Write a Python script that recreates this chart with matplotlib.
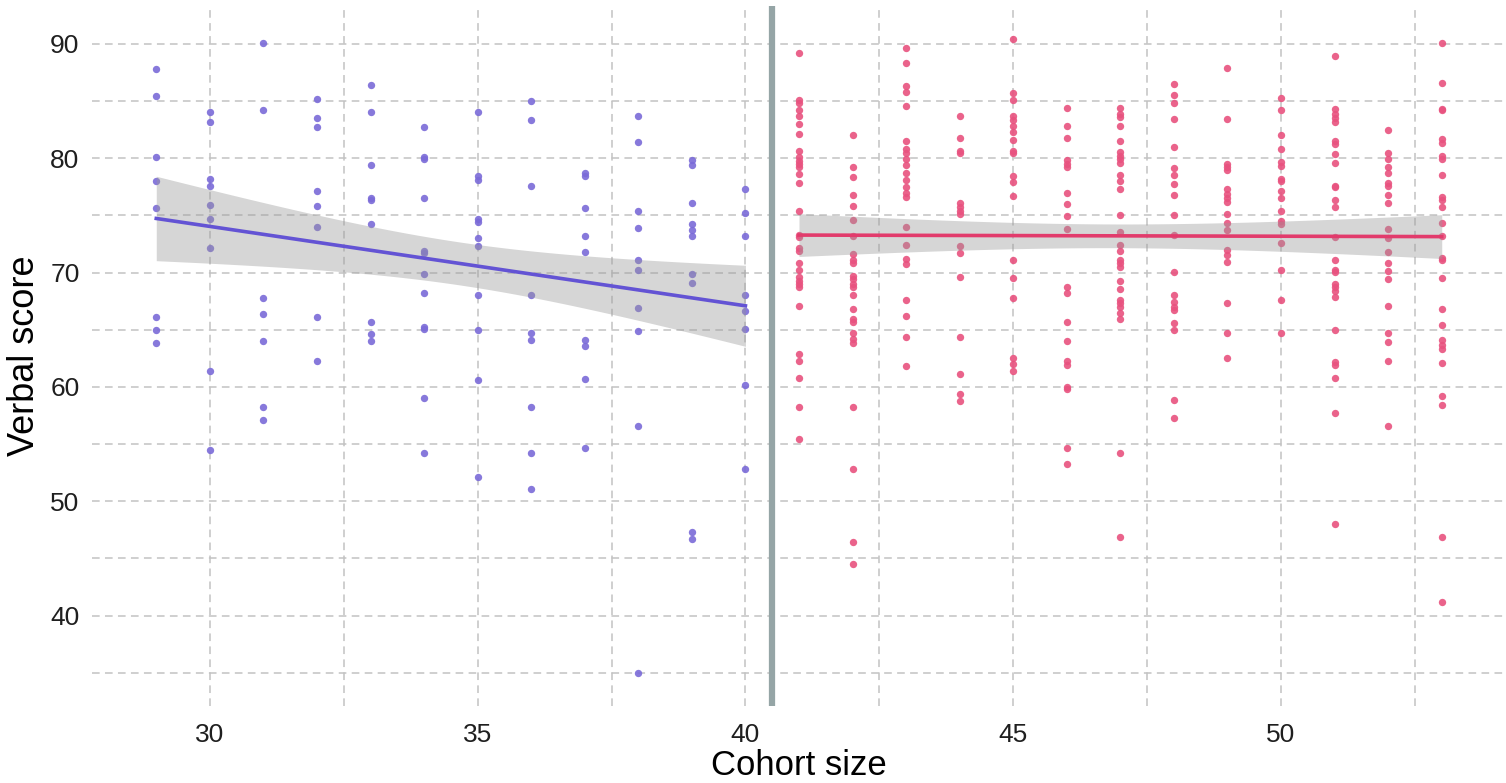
import numpy as np
import matplotlib
matplotlib.use("Agg")
import matplotlib.pyplot as plt
from matplotlib.ticker import MultipleLocator

# ---------------- data ----------------
left_sizes = [29, 30, 31, 32, 33, 34, 35, 36, 37, 38, 39, 40]
left_scores = [
    [87.8, 85.4, 80.1, 78.0, 75.6, 66.1, 65.0, 63.8],
    [84.0, 83.2, 78.2, 77.6, 75.9, 74.7, 72.1, 61.4, 54.5],
    [90.1, 84.2, 67.8, 66.4, 64.0, 58.2, 57.1],
    [85.2, 83.5, 82.7, 77.1, 75.8, 74.0, 66.1, 62.3],
    [86.4, 84.0, 79.4, 76.5, 76.3, 74.2, 65.7, 64.6, 64.0],
    [82.7, 80.1, 79.9, 76.5, 71.9, 71.7, 69.9, 68.2, 65.2, 65.1, 59.0, 54.2],
    [84.0, 78.4, 78.1, 74.7, 74.4, 73.0, 72.3, 68.0, 65.0, 60.6, 52.1],
    [85.0, 83.3, 77.6, 68.0, 64.7, 64.1, 58.2, 54.2, 51.1],
    [78.7, 78.4, 75.6, 73.2, 71.8, 64.1, 63.6, 60.7, 54.7],
    [83.7, 81.4, 75.4, 73.9, 71.1, 70.2, 66.9, 64.9, 56.6, 35.0],
    [79.8, 79.4, 76.1, 74.2, 73.7, 73.2, 69.9, 69.1, 47.3, 46.7],
    [77.3, 75.2, 73.2, 68.0, 66.6, 65.1, 60.2, 52.8],
]

right_sizes = [41, 42, 43, 44, 45, 46, 47, 48, 49, 50, 51, 52, 53]
right_scores = [
    [89.2, 85.1, 84.8, 84.2, 83.7, 83.0, 82.1, 80.6, 80.1, 79.75, 79.5, 79.2,
     78.6, 77.8, 75.4, 73.3, 73.1, 72.1, 71.9, 70.8, 70.25, 69.6, 69.3, 69.0,
     68.7, 67.1, 62.9, 62.3, 60.8, 58.2, 55.4],
    [82.0, 79.2, 78.35, 76.8, 75.8, 74.6, 73.2, 71.65, 71.1, 70.8, 69.7, 69.4,
     69.0, 68.7, 68.0, 66.8, 65.9, 65.7, 64.7, 64.2, 63.8, 58.2, 52.8, 46.4, 44.5],
    [89.6, 88.3, 86.3, 85.8, 84.55, 81.5, 80.8, 80.45, 79.95, 79.4, 78.7, 78.1,
     77.5, 76.95, 76.6, 74.0, 72.4, 71.2, 70.7, 67.6, 66.2, 64.4, 61.8],
    [83.7, 81.8, 80.6, 80.45, 76.1, 75.7, 75.4, 75.1, 72.3, 71.7, 69.6, 64.4,
     61.1, 59.4, 58.8],
    [90.4, 85.7, 85.1, 83.7, 83.3, 82.8, 82.3, 81.6, 80.6, 80.45, 78.4, 77.9,
     76.7, 71.1, 69.55, 67.8, 62.5, 62.0, 61.4],
    [84.4, 82.8, 81.8, 79.8, 79.5, 79.2, 76.95, 75.95, 74.9, 73.8, 68.7, 68.2,
     65.7, 64.0, 62.3, 61.9, 60.0, 59.8, 54.7, 53.3],
    [84.4, 83.9, 83.6, 82.8, 81.5, 80.5, 80.2, 79.95, 79.6, 78.5, 78.0, 77.3,
     75.05, 73.55, 72.4, 71.9, 71.1, 70.8, 70.5, 69.3, 68.6, 67.6, 67.3, 67.0,
     66.5, 65.9, 54.2, 46.9],
    [86.5, 85.5, 84.8, 83.4, 81.0, 79.1, 78.5, 77.7, 76.75, 75.05, 73.3, 70.05,
     68.0, 67.4, 67.0, 66.75, 65.6, 64.95, 58.85, 57.3],
    [87.9, 83.4, 79.5, 79.2, 79.0, 77.3, 76.9, 76.5, 76.2, 75.1, 74.3, 73.7,
     72.0, 71.5, 70.9, 67.3, 64.7, 62.5],
    [85.25, 84.2, 82.0, 80.8, 79.7, 79.3, 78.2, 78.0, 77.1, 76.5, 75.4, 74.5,
     74.2, 72.6, 70.2, 67.6, 64.7],
    [88.9, 84.3, 83.9, 83.5, 83.2, 81.5, 81.2, 80.4, 79.6, 77.6, 77.5, 76.3,
     75.7, 73.1, 71.1, 70.25, 70.05, 69.0, 68.7, 68.4, 67.9, 65.0, 62.2, 61.9,
     60.8, 57.7, 48.0],
    [82.5, 80.45, 79.95, 79.2, 78.7, 77.8, 77.6, 76.8, 76.1, 73.8, 73.0, 71.8,
     70.8, 70.1, 69.4, 67.1, 64.7, 63.9, 62.3, 56.6],
    [90.05, 86.6, 84.3, 84.2, 81.7, 81.3, 80.2, 79.95, 78.5, 76.6, 76.3, 75.7,
     74.35, 73.2, 71.3, 71.1, 69.55, 66.8, 65.4, 64.1, 63.7, 63.35, 62.1, 59.2,
     58.4, 46.9, 41.2],
]

cutoff = 40.5
x_ticks = [30, 35, 40, 45, 50]
y_ticks = [40, 50, 60, 70, 80, 90]
x_title = "Cohort size"
y_title = "Verbal score"

# ---------------- styling ----------------
plt.rcParams["font.family"] = ["Liberation Sans", "DejaVu Sans"]
left_pt = "#7a6ad8"
left_line = "#6353d4"
right_pt = "#e8527f"
right_line = "#e23b6c"
text_col = "#1f1f1f"


def flatten(sizes, scores):
    xs = np.concatenate([np.full(len(s), x, dtype=float) for x, s in zip(sizes, scores)])
    ys = np.concatenate([np.asarray(s, dtype=float) for s in scores])
    return xs, ys


def t975(df):
    z = 1.959964
    g1 = (z ** 3 + z) / 4
    g2 = (5 * z ** 5 + 16 * z ** 3 + 3 * z) / 96
    return z + g1 / df + g2 / df ** 2


def lm_fit(x, y, grid):
    n = len(x)
    b1, b0 = np.polyfit(x, y, 1)
    resid = y - (b0 + b1 * x)
    s = np.sqrt(np.sum(resid ** 2) / (n - 2))
    xb = x.mean()
    sxx = np.sum((x - xb) ** 2)
    fit = b0 + b1 * grid
    se = s * np.sqrt(1.0 / n + (grid - xb) ** 2 / sxx)
    t = t975(n - 2)
    return fit, fit - t * se, fit + t * se


fig = plt.figure(figsize=(15.06, 7.83), dpi=100)
ax = fig.add_axes([92 / 1506, 1 - 706 / 783, (1506 - 92) / 1506, (706 - 6) / 783])

for sizes, scores, pc, lc in [(left_sizes, left_scores, left_pt, left_line),
                              (right_sizes, right_scores, right_pt, right_line)]:
    xs, ys = flatten(sizes, scores)
    ax.scatter(xs, ys, s=28, color=pc, alpha=0.9, linewidths=0, zorder=3)
    grid = np.linspace(xs.min(), xs.max(), 100)
    fit, lo, hi = lm_fit(xs, ys, grid)
    ax.fill_between(grid, lo, hi, color="#999999", alpha=0.4, linewidth=0, zorder=4)
    ax.plot(grid, fit, color=lc, linewidth=2.6, zorder=5)

ax.axvline(cutoff, color="#95a5a6", linewidth=4.5, zorder=6)

ax.set_xlim(27.8, 54.2)
ax.set_ylim(32.1, 93.3)
ax.set_xticks(x_ticks)
ax.set_yticks(y_ticks)
ax.xaxis.set_minor_locator(MultipleLocator(2.5))
ax.yaxis.set_minor_locator(MultipleLocator(5))
ax.grid(which="both", color="#c2c2c2", linestyle=(0, (5, 3.5)), linewidth=1.1, zorder=0)
ax.set_axisbelow(True)
for sp in ax.spines.values():
    sp.set_visible(False)
ax.tick_params(which="both", length=0)
ax.tick_params(axis="x", labelsize=19, colors=text_col, pad=12)
ax.tick_params(axis="y", labelsize=19, colors=text_col, pad=9)
ax.set_xlabel(x_title, fontsize=25, color="black", labelpad=2)
ax.set_ylabel(y_title, fontsize=26, color="black", labelpad=6)

fig.savefig("out.png", dpi=100)
